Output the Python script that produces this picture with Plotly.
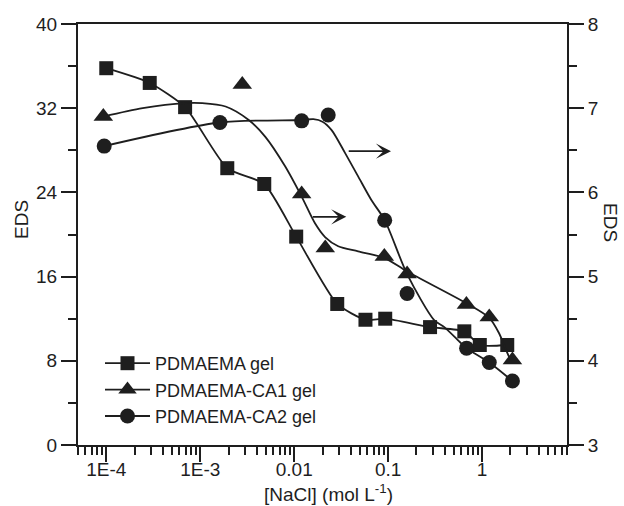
import plotly.graph_objects as go

# ---- data ----
# PDMAEMA gel (left axis)
sq_x = [1e-4, 2.9e-4, 6.9e-4, 1.94e-3, 4.8e-3, 0.0105, 0.0287, 0.0573, 0.093, 0.279, 0.646, 0.944, 1.85]
sq_y = [35.8, 34.4, 32.1, 26.3, 24.8, 19.8, 13.4, 11.9, 12.0, 11.2, 10.8, 9.5, 9.5]

# PDMAEMA-CA1 gel (right axis)
tri_x = [9.3e-5, 2.8e-3, 0.0120, 0.0214, 0.091, 0.159, 0.68, 1.19, 2.1]
tri_y = [6.90, 7.28, 5.98, 5.34, 5.24, 5.03, 4.67, 4.52, 4.01]
tri_fit_x = [9.3e-5, 2.44e-4, 6.9e-4, 1.05e-3, 1.86e-3, 3.28e-3, 4.93e-3, 8.0e-3, 0.0120,
             0.0167, 0.0213, 0.0294, 0.0479, 0.0918, 0.159, 0.687, 1.19, 1.51, 1.93, 2.10]
tri_fit_y = [6.90, 7.00, 7.06, 7.06, 7.02, 6.86, 6.66, 6.31, 5.95,
             5.63, 5.47, 5.36, 5.30, 5.22, 5.06, 4.68, 4.51, 4.33, 4.05, 3.99]

# PDMAEMA-CA2 gel (right axis)
cir_x = [9.5e-5, 1.62e-3, 0.0120, 0.0230, 0.0918, 0.159, 0.683, 1.19, 2.10]
cir_y = [6.55, 6.83, 6.85, 6.92, 5.67, 4.80, 4.15, 3.98, 3.76]
cir_fit_x = [9.5e-5, 1.62e-3, 0.0120, 0.0160, 0.0200, 0.0250, 0.0347, 0.0479, 0.0662, 0.0918,
             0.159, 0.310, 0.396, 0.594, 0.683, 1.19, 2.10]
cir_fit_y = [6.55, 6.83, 6.86, 6.87, 6.84, 6.74, 6.47, 6.19, 5.91, 5.67,
             5.03, 4.48, 4.40, 4.21, 4.15, 3.98, 3.76]

names = ["PDMAEMA gel", "PDMAEMA-CA1 gel", "PDMAEMA-CA2 gel"]
x_tickvals = [1e-4, 1e-3, 1e-2, 1e-1, 1]
x_ticktext = ["1E-4", "1E-3", "0.01", "0.1", "1"]
# arrows: (tail log10 x, head log10 x, right-axis y)
arrows = [(-1.817, -1.446, 5.71), (-1.436, -0.970, 6.49)]

C = "#1e1e1e"
FONT = "Arial, Liberation Sans, sans-serif"
LW = 1.8

L, R, T, B = 78, 57, 24, 61
W, H = 624, 506
pw, ph = W - L - R, H - T - B


def px(xp):
    return (xp - L) / pw


def py(yp):
    return (H - B - yp) / ph


fig = go.Figure()

fig.add_trace(go.Scatter(x=sq_x, y=sq_y, mode="lines+markers", name=names[0],
                         line=dict(color=C, width=LW, shape="spline", smoothing=0.6),
                         marker=dict(symbol="square", size=14, color=C), yaxis="y"))
# legend-only entries
fig.add_trace(go.Scatter(x=[None], y=[None], mode="lines+markers", name=names[1],
                         line=dict(color=C, width=LW),
                         marker=dict(symbol="triangle-up", size=17, color=C), yaxis="y2"))
fig.add_trace(go.Scatter(x=[None], y=[None], mode="lines+markers", name=names[2],
                         line=dict(color=C, width=LW),
                         marker=dict(symbol="circle", size=15, color=C), yaxis="y2"))
# fits
fig.add_trace(go.Scatter(x=tri_fit_x, y=tri_fit_y, mode="lines", showlegend=False,
                         line=dict(color=C, width=LW, shape="spline", smoothing=0.8), yaxis="y2"))
fig.add_trace(go.Scatter(x=cir_fit_x, y=cir_fit_y, mode="lines", showlegend=False,
                         line=dict(color=C, width=LW, shape="spline", smoothing=0.8), yaxis="y2"))
# markers
fig.add_trace(go.Scatter(x=tri_x, y=tri_y, mode="markers", showlegend=False,
                         marker=dict(symbol="triangle-up", size=17, color=C), yaxis="y2"))
fig.add_trace(go.Scatter(x=cir_x, y=cir_y, mode="markers", showlegend=False,
                         marker=dict(symbol="circle", size=15, color=C), yaxis="y2"))

annotations = []
for tail, head, yv in arrows:
    annotations.append(dict(x=head, y=yv, ax=tail, ay=yv, xref="x", yref="y2",
                            axref="x", ayref="y2", showarrow=True, arrowhead=3,
                            arrowsize=1.4, arrowwidth=1.8, arrowcolor=C, text=""))
annotations.append(dict(text="[NaCl] (mol L<sup>-1</sup>)", x=px(328), y=py(493),
                        xref="paper", yref="paper", showarrow=False,
                        xanchor="center", yanchor="middle",
                        font=dict(size=19, color=C, family=FONT)))
annotations.append(dict(text="EDS", x=px(21), y=py(220), xref="paper", yref="paper",
                        showarrow=False, textangle=-90, xanchor="center", yanchor="middle",
                        font=dict(size=19, color=C, family=FONT)))
annotations.append(dict(text="EDS", x=px(611), y=py(222), xref="paper", yref="paper",
                        showarrow=False, textangle=90, xanchor="center", yanchor="middle",
                        font=dict(size=19, color=C, family=FONT)))

axis_common = dict(showgrid=False, zeroline=False, showline=True, linecolor=C, linewidth=2,
                   ticks="outside", ticklen=15, tickwidth=2, tickcolor=C,
                   tickfont=dict(size=19, family=FONT, color=C))

fig.update_layout(
    width=W, height=H,
    margin=dict(l=L, r=R, t=T, b=B, pad=0),
    paper_bgcolor="white", plot_bgcolor="white",
    font=dict(family=FONT, size=19, color=C),
    showlegend=True,
    legend=dict(x=px(100), y=py(345), xanchor="left", yanchor="top",
                bgcolor="rgba(0,0,0,0)", font=dict(size=18, family=FONT, color=C),
                tracegroupgap=0, itemwidth=45),
    annotations=annotations,
    xaxis=dict(type="log", range=[-4.301, 0.903], mirror=True,
               tickvals=x_tickvals, ticktext=x_ticktext, ticklabelstandoff=-9,
               minor=dict(ticks="outside", ticklen=8, tickwidth=1.6, tickcolor=C,
                          dtick="D1", showgrid=False),
               **axis_common),
    yaxis=dict(range=[0, 40], dtick=8,
               minor=dict(ticks="outside", ticklen=8, tickwidth=1.6, tickcolor=C, dtick=4),
               **axis_common),
    yaxis2=dict(range=[3, 8], dtick=1, overlaying="y", side="right",
                minor=dict(ticks="outside", ticklen=8, tickwidth=1.6, tickcolor=C, dtick=0.5),
                **axis_common),
)

fig.write_html("out.html")
